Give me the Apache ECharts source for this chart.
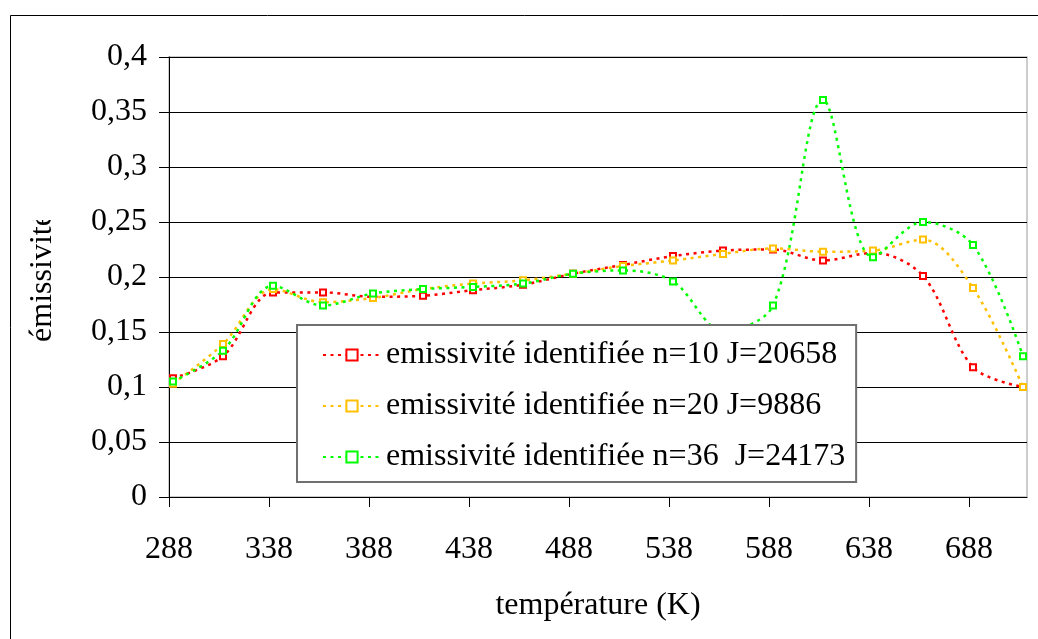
<!DOCTYPE html>
<html>
<head>
<meta charset="utf-8">
<script src="https://cdn.jsdelivr.net/npm/echarts@6/dist/echarts.min.js"></script>
<style>
html,body{margin:0;padding:0;background:#fff;}
#c{width:1038px;height:639px;}
</style>
</head>
<body>
<div id="c"></div>
<script>
// Temperatures (K) of the identified points
const temperatures = [290, 315, 340, 365, 390, 415, 440, 465, 490, 515, 540, 565, 590, 615, 640, 665, 690, 715];
// Emissivity, n=10
const emisN10 = [0.108, 0.128, 0.186, 0.186, 0.182, 0.183, 0.188, 0.193, 0.203, 0.211, 0.219, 0.224, 0.225, 0.215, 0.222, 0.201, 0.118, 0.100];
// Emissivity, n=20
const emisN20 = [0.103, 0.139, 0.189, 0.177, 0.181, 0.189, 0.194, 0.197, 0.203, 0.210, 0.215, 0.221, 0.226, 0.223, 0.224, 0.234, 0.190, 0.100];
// Emissivity, n=36
const emisN36 = [0.105, 0.133, 0.192, 0.174, 0.185, 0.189, 0.191, 0.194, 0.203, 0.206, 0.196, 0.151, 0.174, 0.361, 0.218, 0.250, 0.229, 0.128];
const seriesNames = ['emissivité identifiée n=10 J=20658', 'emissivité identifiée n=20 J=9886', 'emissivité identifiée n=36  J=24173'];
const xTickLabels = [288, 338, 388, 438, 488, 538, 588, 638, 688];

const FONT = "'Liberation Serif', 'Times New Roman', serif";
const colors = ['#ff0000', '#ffc000', '#00ff00'];
function pairs(vals){ return temperatures.map((t,i)=>[t, vals[i]]); }
function mkSeries(name, vals, color){
  return {
    name: name, type: 'line', data: pairs(vals),
    smooth: 0.33,
    symbol: 'emptyRect', symbolSize: 6, showAllSymbol: true,
    itemStyle: {color: color, borderWidth: 1},
    lineStyle: {color: color, width: 2.5, type: [3, 4.5]},
    emphasis: {disabled: true}
  };
}
const chart = echarts.init(document.getElementById('c'), null, {renderer: 'canvas'});
chart.setOption({
  animation: false,
  backgroundColor: '#fff',
  grid: {left: 169, top: 57, width: 858, height: 440, show: true, borderColor: '#bdbdbd', borderWidth: 1.5, backgroundColor: 'transparent'},
  xAxis: {
    type: 'value', min: 288, max: 717,
    axisLine: {show: true, onZero: false, lineStyle: {color: '#000', width: 1}},
    axisTick: {show: true, length: 10, customValues: xTickLabels, lineStyle: {color: '#000'}},
    axisLabel: {customValues: xTickLabels, margin: 37, fontFamily: FONT, fontSize: 32, color: '#000'},
    splitLine: {show: false},
    name: 'température (K)', nameLocation: 'middle', nameGap: 93,
    nameTextStyle: {fontFamily: FONT, fontSize: 32, color: '#000'}
  },
  yAxis: {
    type: 'value', min: 0, max: 0.4, interval: 0.05,
    axisLine: {show: true, lineStyle: {color: '#000', width: 1}},
    axisTick: {show: true, length: 10, lineStyle: {color: '#000'}},
    axisLabel: {margin: 22, fontFamily: FONT, fontSize: 32, color: '#000',
      formatter: v => String(+v.toFixed(2)).replace('.', ',')},
    splitLine: {show: true, lineStyle: {color: '#000', width: 1}},
    name: 'émissivité', nameLocation: 'middle', nameGap: 110,
    nameTextStyle: {fontFamily: FONT, fontSize: 32, color: '#000'}
  },
  legend: {
    orient: 'vertical', left: 297, top: 325, padding: [12, 11, 7, 25],
    backgroundColor: '#fff', borderColor: '#707070', borderWidth: 2,
    itemWidth: 58, itemHeight: 14, itemGap: 15,
    data: seriesNames,
    textStyle: {fontFamily: FONT, fontSize: 32, color: '#000', lineHeight: 36},
    selectedMode: false
  },
  graphic: [
    {type: 'rect', z: 100, shape: {x: 18, y: 120, width: 50, height: 100}, style: {fill: '#fff'}},
    {type: 'rect', z: 100, shape: {x: 10.5, y: 15.5, width: 1040, height: 640},
     style: {fill: 'none', stroke: '#000', lineWidth: 1}}
  ],
  series: [
    mkSeries(seriesNames[0], emisN10, colors[0]),
    mkSeries(seriesNames[1], emisN20, colors[1]),
    mkSeries(seriesNames[2], emisN36, colors[2])
  ]
});
</script>
</body>
</html>
